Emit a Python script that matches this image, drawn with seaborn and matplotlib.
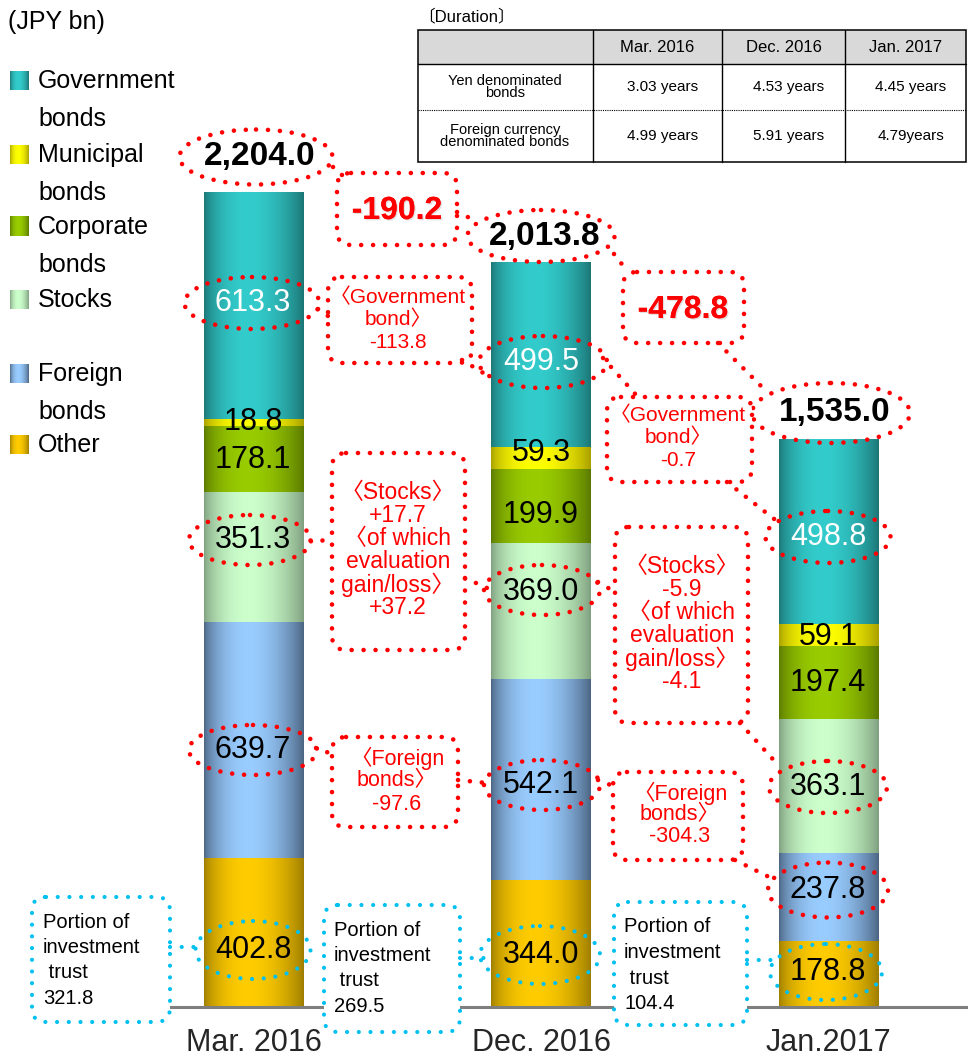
import numpy as np
import pandas as pd
import matplotlib
matplotlib.use("Agg")
import matplotlib.pyplot as plt
import matplotlib.colors as mcolors
import matplotlib.patheffects as pe
import seaborn as sns
from matplotlib.transforms import Affine2D, blended_transform_factory
from matplotlib.patches import Ellipse, FancyBboxPatch, Rectangle
from matplotlib.lines import Line2D

# ---------------- data ----------------
periods = ["Mar. 2016", "Dec. 2016", "Jan.2017"]
assets = ["Government\nbonds", "Municipal\nbonds", "Corporate\nbonds", "Stocks", "Foreign\nbonds", "Other"]
government = [613.3, 499.5, 498.8]
municipal = [18.8, 59.3, 59.1]
corporate = [178.1, 199.9, 197.4]
stocks = [351.3, 369.0, 363.1]
foreign = [639.7, 542.1, 237.8]
other = [402.8, 344.0, 178.8]
totals = [2204.0, 2013.8, 1535.0]
total_change = [-190.2, -478.8]
gov_change = [-113.8, -0.7]
stock_change = [17.7, -5.9]
stock_eval_change = [37.2, -4.1]
foreign_change = [-97.6, -304.3]
invest_trust = [321.8, 269.5, 104.4]
dur_cols = ["Mar. 2016", "Dec. 2016", "Jan. 2017"]
dur_rows = ["Yen denominated\nbonds", "Foreign currency\ndenominated bonds"]
dur_yen = ["3.03 years", "4.53 years", "4.45 years"]
dur_fx = ["4.99 years", "5.91 years", "4.79years"]

# ---------------- style ----------------
sns.set_theme(style="white")
plt.rcParams["font.family"] = ["Liberation Sans", "Noto Sans CJK JP", "DejaVu Sans"]
FAM = ["Liberation Sans", "Noto Sans CJK JP", "DejaVu Sans"]

W, H = 968, 1058
fig = plt.figure(figsize=(W / 100, H / 100), dpi=100)
fig.patch.set_facecolor("white")
ax = fig.add_axes([0, 0, 1, 1])
P = Affine2D().scale(1 / W, -1 / H).translate(0, 1) + fig.transFigure  # pixel coords, origin top-left

RED = "#FF0000"
CYAN = "#00C0F0"
# (dark edge, light centre) for layers bottom-up: Other, Foreign, Stocks, Corporate, Municipal, Government
shades = [("#9C7C00", "#FFCC00"), ("#4A6380", "#99CCFF"), ("#7E9E7E", "#CCFFCC"),
          ("#5A7800", "#99CC00"), ("#A89E00", "#FFFF00"), ("#1C7474", "#33CCCC")]
layers = [other, foreign, stocks, corporate, municipal, government]
cum = np.cumsum(np.array(layers), axis=0)
BAR_W = 0.345

# painter's-order stacked bars via seaborn
layer_patches = {}
for k in range(len(layers) - 1, -1, -1):
    n0 = len(ax.patches)
    sns.barplot(x=periods, y=list(cum[k]), order=periods, color=shades[k][1], width=BAR_W,
                saturation=1, errorbar=None, ax=ax, zorder=1)
    layer_patches[k] = ax.patches[n0:]

# axes limits so that pixel layout matches reference
spacing, c0 = 287.25, 253.75
scale = 815 / 2204.0
ax.set_xlim(-c0 / spacing, (W - c0) / spacing)
ax.set_ylim(-(H - 1007) / scale, 1007 / scale)
ax.set_autoscale_on(False)
ax.set_axis_off()


def grad(dark, light, n=256):
    t = np.linspace(0, 1, n)
    f = np.sin(np.pi * t ** 0.85) ** 0.8
    d = np.array(mcolors.to_rgb(dark))
    l = np.array(mcolors.to_rgb(light))
    return (d[None, :] * (1 - f[:, None]) + l[None, :] * f[:, None])[None, :, :]


# gradient fill over each segment, geometry taken from seaborn's patches
for k in range(len(layers)):
    for p in layer_patches[k]:
        i = int(round(p.get_x() + p.get_width() / 2))
        top = p.get_y() + p.get_height()
        bottom = 0 if k == 0 else cum[k - 1][i]
        ax.imshow(grad(*shades[k]), extent=(p.get_x(), p.get_x() + p.get_width(), bottom, top),
                  aspect="auto", interpolation="bilinear", zorder=2)

# baseline
ax.axhline(0, xmin=167 / W, xmax=1, color="#7F7F7F", lw=2.2, zorder=3)

inv = ax.transData.inverted()


def to_data(x, y):
    return inv.transform(P.transform((x, y)))


def T(x, y, s, size, color="black", weight="normal", ha="center", va="center", shadow=False, **kw):
    effects = None
    if shadow:
        effects = [pe.withSimplePatchShadow(offset=(1.0, -1.0), shadow_rgbFace="#999999", alpha=0.3), pe.Normal()]
    return ax.text(x, y, s, transform=P, fontsize=size, color=color, fontweight=weight, ha=ha, va=va,
                   family=FAM, path_effects=effects, zorder=8, clip_on=False, **kw)


def dline(pts, color=RED, lw=3.3, gap=2.6):
    xs, ys = zip(*pts)
    ax.add_line(Line2D(xs, ys, transform=P, color=color, lw=lw, linestyle=(0, (0.01, gap)),
                       dash_capstyle="round", zorder=6, clip_on=False))


def dellipse(cx, cy, w, h, color=RED, lw=3.3, gap=2.6):
    ax.add_patch(Ellipse((cx, cy), w, h, transform=P, fill=False, edgecolor=color, lw=lw,
                         linestyle=(0, (0.01, gap)), capstyle="round", zorder=6, clip_on=False))


def dbox(x0, y0, x1, y1, color=RED, lw=3.3, gap=2.6, r=14):
    ax.add_patch(FancyBboxPatch((x0, y0), x1 - x0, y1 - y0, boxstyle=f"round,pad=0,rounding_size={r}",
                                transform=P, facecolor="white", edgecolor=color, lw=lw,
                                linestyle=(0, (0.01, gap)), capstyle="round", zorder=6, clip_on=False))


# ---------------- category labels ----------------
TB = blended_transform_factory(ax.transData, P)
for i, name in enumerate(periods):
    ax.text(i, 1043, name, transform=TB, ha="center", va="center", fontsize=22, family=FAM, zorder=8)

# ---------------- segment value labels ----------------
label_y = [[950, 750, 540, 460, 422, 303],
           [955, 785, 592, 515, 453, 362],
           [972, 890, 787, 683, 637, 537]]
bar_px = [253, 541, 828]
for i in range(3):
    for k in range(len(layers)):
        col = "white" if k == 5 else "black"
        T(bar_px[i], label_y[i][k], f"{layers[k][i]:.1f}", 22, color=col)

# ellipses around values
dellipse(252, 303, 135, 52); dellipse(250, 540, 122, 50); dellipse(253, 750, 128, 50)
dellipse(253, 950, 115, 58, color=CYAN, lw=3.0, gap=2.8)
dellipse(543, 362, 128, 52); dellipse(542, 590, 116, 50); dellipse(542, 785, 116, 50)
dellipse(540, 955, 120, 58, color=CYAN, lw=3.0, gap=2.8)
dellipse(828, 537, 125, 52); dellipse(828, 787, 118, 52); dellipse(828, 890, 120, 55)
dellipse(826, 972, 112, 56, color=CYAN, lw=3.0, gap=2.8)

# totals
tot_pos = [(256, 157, 153, 55), (541, 236, 147, 52), (831, 413, 158, 60)]
for (cx, cy, w, h), v in zip(tot_pos, totals):
    dellipse(cx, cy, w, h)
    T(cx + 4, cy, f"{v:,.1f}", 24, weight="bold")

# total change boxes
dbox(337, 173, 457, 245)
T(397, 211, f"{total_change[0]:.1f}", 23, color=RED, weight="bold", shadow=True)
dbox(623, 272, 744, 343)
T(683, 310, f"{total_change[1]:.1f}", 23, color=RED, weight="bold", shadow=True)

# connectors for totals
dline([(333, 167), (342, 175)])
dline([(457, 212), (472, 219)])
dline([(614, 254), (628, 272)])
dline([(718, 343), (735, 360), (767, 392)])


def box_lines(cx, y0, step, lines, size):
    for j, s in enumerate(lines):
        T(cx, y0 + j * step, s, size, color=RED)


def sgn(v):
    return f"+{v:.1f}" if v > 0 else f"{v:.1f}"


# government bond boxes
dbox(328, 277, 472, 363)
box_lines(398, 297, 22.5, ["〈Government", "bond〉", sgn(gov_change[0])], 15)
dbox(607, 397, 752, 482)
box_lines(678, 415, 22.5, ["〈Government", "bond〉", sgn(gov_change[1])], 15)
# stocks boxes
dbox(332, 453, 465, 650)
box_lines(398, 493, 23, ["〈Stocks〉", sgn(stock_change[0]), "〈of which", "evaluation", "gain/loss〉",
                         sgn(stock_eval_change[0])], 16.5)
dbox(615, 527, 748, 723)
box_lines(682, 567, 23, ["〈Stocks〉", sgn(stock_change[1]), "〈of which", "evaluation", "gain/loss〉",
                         sgn(stock_eval_change[1])], 16.5)
# foreign bond boxes
dbox(332, 737, 458, 827)
box_lines(397, 758, 23, ["〈Foreign", "bonds〉", sgn(foreign_change[0])], 15.5)
dbox(613, 772, 743, 860)
box_lines(680, 793, 22, ["〈Foreign", "bonds〉", sgn(foreign_change[1])], 15.5)

# connectors for red boxes
dline([(318, 309), (328, 316)])
dline([(462, 360), (490, 377)])
dline([(603, 358), (637, 396)])
dline([(727, 482), (778, 522)])
dline([(310, 540), (332, 540)])
dline([(465, 578), (487, 588)])
dline([(598, 582), (615, 592)])
dline([(740, 723), (780, 767)])
dline([(316, 748), (332, 754)])
dline([(458, 780), (487, 783)])
dline([(598, 780), (613, 786)])
dline([(735, 860), (775, 880)])

# investment trust boxes (cyan)
trust_boxes = [(32, 897, 170, 1022, 43, 922), (324, 905, 460, 1032, 334, 930), (614, 902, 747, 1025, 624, 927)]
for (x0, y0, x1, y1, tx, ty), v in zip(trust_boxes, invest_trust):
    dbox(x0, y0, x1, y1, color=CYAN, lw=3.0, gap=2.8, r=14)
    for j, s in enumerate(["Portion of", "investment", " trust", f"{v:.1f}"]):
        T(tx, ty + j * 25.5, s, 14.5, ha="left")
dline([(170, 947), (200, 947)], color=CYAN, lw=3.0, gap=2.8)
dline([(460, 958), (484, 958)], color=CYAN, lw=3.0, gap=2.8)
dline([(747, 960), (772, 960)], color=CYAN, lw=3.0, gap=2.8)

# ---------------- legend ----------------
T(8, 22, "(JPY bn)", 18, ha="left")
leg_y = [81, 155, 227, 300, 374, 445]  # top-down order: Gov, Muni, Corp, Stocks, Foreign, Other
for j, name in enumerate(assets):
    k = len(layers) - 1 - j
    (x0, y0), (x1, y1) = to_data(10, leg_y[j] - 10), to_data(29, leg_y[j] + 9)
    ax.imshow(grad(*shades[k]), extent=(x0, x1, y1, y0), aspect="auto", interpolation="bilinear", zorder=4)
    for m, part in enumerate(name.split("\n")):
        T(38, leg_y[j] + m * 38, part, 18, ha="left")

# ---------------- duration table ----------------
T(418, 16, "〔Duration〕", 12, ha="left")
tx0, tx1 = 418, 966
ty = [30, 64, 110, 162]
cx = [418, 593, 722, 845, 966]
ax.add_patch(Rectangle((tx0, ty[0]), tx1 - tx0, ty[1] - ty[0], transform=P, facecolor="#D9D9D9",
                       edgecolor="none", zorder=5, clip_on=False))
ax.add_patch(Rectangle((tx0, ty[0]), tx1 - tx0, ty[3] - ty[0], transform=P, facecolor="none",
                       edgecolor="black", lw=1.1, zorder=6, clip_on=False))
ax.add_line(Line2D([tx0, tx1], [ty[1], ty[1]], transform=P, color="black", lw=1.0, zorder=6))
ax.add_line(Line2D([tx0, tx1], [ty[2], ty[2]], transform=P, color="black", lw=0.8, ls=(0, (1, 1)), zorder=6))
for x in cx[1:-1]:
    ax.add_line(Line2D([x, x], [ty[0], ty[3]], transform=P, color="black", lw=1.0, zorder=6))
for c in range(3):
    mid = (cx[c + 1] + cx[c + 2]) / 2
    T(mid, 47, dur_cols[c], 12)
    T(mid + 5, 87, dur_yen[c], 11)
    T(mid + 5, 136, dur_fx[c], 11)
T(505, 87, dur_rows[0], 10.5, linespacing=0.8)
T(505, 136, dur_rows[1], 10.5, linespacing=0.85)

fig.savefig("out.png", dpi=100, facecolor="white")
